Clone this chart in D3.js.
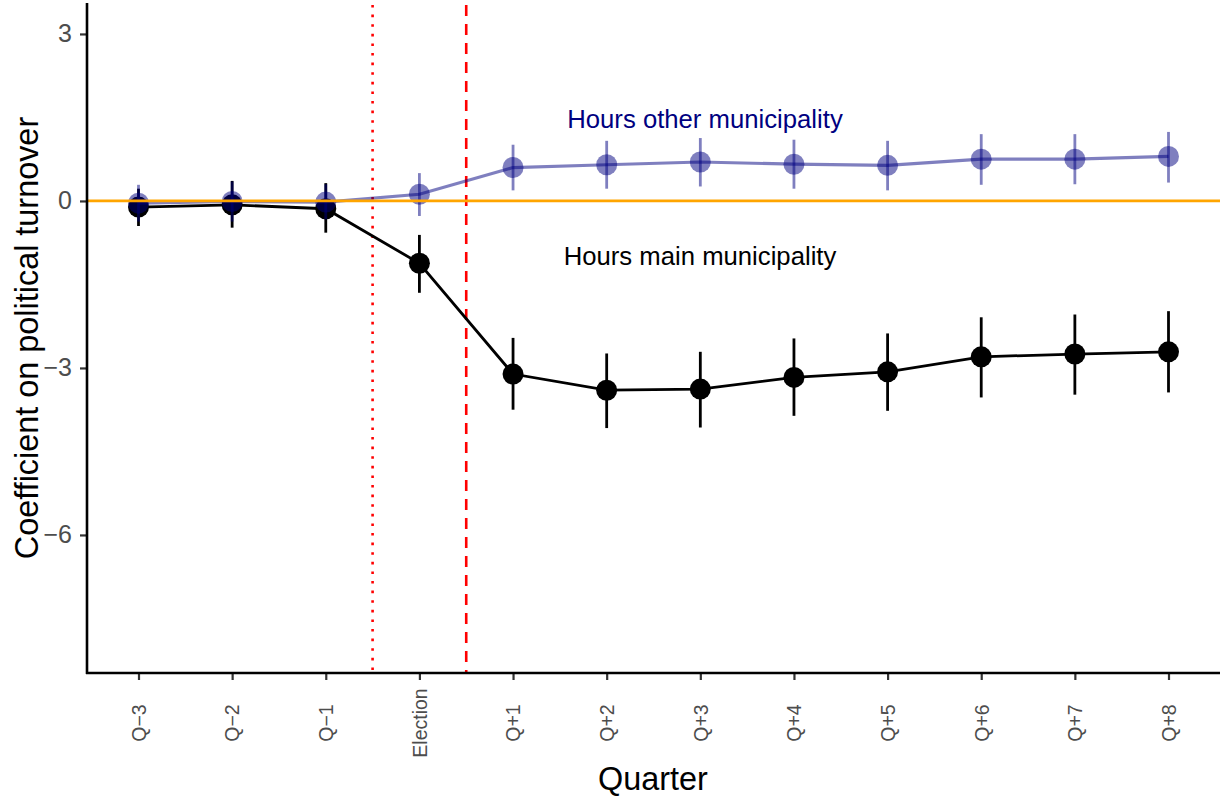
<!DOCTYPE html>
<html>
<head>
<meta charset="utf-8">
<script src="https://cdn.jsdelivr.net/npm/d3@7"></script>
<style>
  html, body { margin: 0; padding: 0; background: #fff; }
  svg { display: block; font-family: "Liberation Sans", Arial, Helvetica, sans-serif; }
</style>
</head>
<body>
<svg id="chart" width="1225" height="798"></svg>
<script>
// Quarters relative to the election
const quarters = ["Q\u22123", "Q\u22122", "Q\u22121", "Election", "Q+1", "Q+2", "Q+3", "Q+4", "Q+5", "Q+6", "Q+7", "Q+8"];

// Hours worked in the main municipality: estimate and 95% interval
const mainEst   = [-0.11, -0.07, -0.14, -1.12, -3.11, -3.40, -3.38, -3.17, -3.07, -2.80, -2.75, -2.71];
const mainLow   = [-0.45, -0.48, -0.57, -1.65, -3.75, -4.08, -4.07, -3.86, -3.77, -3.53, -3.48, -3.44];
const mainHigh  = [ 0.22,  0.36,  0.32, -0.61, -2.46, -2.74, -2.71, -2.47, -2.38, -2.09, -2.04, -1.98];

// Hours worked in other municipalities: estimate and 95% interval
const otherEst  = [-0.04, -0.01, -0.02,  0.12,  0.60,  0.65,  0.70,  0.66,  0.64,  0.75,  0.75,  0.80];
const otherLow  = [-0.37, -0.37, -0.33, -0.27,  0.19,  0.22,  0.26,  0.22,  0.19,  0.29,  0.30,  0.33];
const otherHigh = [ 0.29,  0.35,  0.30,  0.50,  1.01,  1.08,  1.13,  1.10,  1.08,  1.20,  1.20,  1.24];

const yTicks = [3, 0, -3, -6];

const svg = d3.select("#chart");
const pLeft = 87, pRight = 1220, pTop = 5, pBottom = 673;

const x = d3.scaleLinear().domain([0.45, 12.55]).range([pLeft, pRight]);
const y = d3.scaleLinear().domain([-8.48, 3.52]).range([pBottom, pTop]);

const idx = quarters.map((q, i) => i + 1);

// Election window markers
svg.append("line")
  .attr("x1", x(3.5)).attr("x2", x(3.5)).attr("y1", pTop).attr("y2", pBottom)
  .attr("stroke", "#ff0000").attr("stroke-width", 2.6).attr("stroke-dasharray", "2.6,7");
svg.append("line")
  .attr("x1", x(4.5)).attr("x2", x(4.5)).attr("y1", pTop).attr("y2", pBottom)
  .attr("stroke", "#ff0000").attr("stroke-width", 2.6).attr("stroke-dasharray", "11,8");

function drawSeries(est, lo, hi, color, opacity, lineWidth) {
  const g = svg.append("g");
  const line = d3.line().x((d, i) => x(idx[i])).y(d => y(d));
  g.append("path").datum(est)
    .attr("d", line).attr("fill", "none")
    .attr("stroke", color).attr("stroke-opacity", opacity).attr("stroke-width", lineWidth);
  g.selectAll("line.err").data(est).join("line")
    .attr("class", "err")
    .attr("x1", (d, i) => x(idx[i])).attr("x2", (d, i) => x(idx[i]))
    .attr("y1", (d, i) => y(lo[i])).attr("y2", (d, i) => y(hi[i]))
    .attr("stroke", color).attr("stroke-opacity", opacity).attr("stroke-width", 2.8);
  g.selectAll("circle").data(est).join("circle")
    .attr("cx", (d, i) => x(idx[i])).attr("cy", d => y(d))
    .attr("r", 10.5).attr("fill", color).attr("fill-opacity", opacity);
}

drawSeries(mainEst, mainLow, mainHigh, "#000000", 1, 2.8);
drawSeries(otherEst, otherLow, otherHigh, "#000080", 0.5, 3.2);

// Zero reference line
svg.append("line")
  .attr("x1", pLeft).attr("x2", pRight).attr("y1", y(0)).attr("y2", y(0))
  .attr("stroke", "#ffa500").attr("stroke-width", 2.8);

// Series labels
svg.append("text").attr("x", 705).attr("y", 128)
  .attr("text-anchor", "middle").attr("font-size", 25.7).attr("fill", "#000080")
  .text("Hours other municipality");
svg.append("text").attr("x", 700).attr("y", 265)
  .attr("text-anchor", "middle").attr("font-size", 25.7).attr("fill", "#000000")
  .text("Hours main municipality");

// Y axis
const yAxis = svg.append("g").attr("transform", `translate(${pLeft},0)`)
  .call(d3.axisLeft(y).tickValues(yTicks).tickSize(7).tickPadding(8)
    .tickFormat(d => d < 0 ? "\u2212" + Math.abs(d) : d));
yAxis.select(".domain").remove();
yAxis.selectAll(".tick line").attr("stroke", "#333333").attr("stroke-width", 2.2);
yAxis.selectAll(".tick text").attr("fill", "#4d4d4d").attr("font-size", 25)
  .attr("font-family", "Liberation Sans, Arial, sans-serif");

// X axis
const xAxis = svg.append("g").attr("transform", `translate(0,${pBottom})`)
  .call(d3.axisBottom(x).tickValues(idx).tickSize(7).tickFormat((d) => quarters[d - 1]));
xAxis.select(".domain").remove();
xAxis.selectAll(".tick line").attr("stroke", "#333333").attr("stroke-width", 2.2);
xAxis.selectAll(".tick text")
  .attr("fill", "#4d4d4d").attr("font-size", 19.5)
  .attr("font-family", "Liberation Sans, Arial, sans-serif")
  .attr("text-anchor", "middle")
  .attr("transform", "translate(0,50) rotate(-90)")
  .attr("x", 0).attr("y", 0).attr("dy", "0.35em");

// Axis lines
svg.append("line").attr("x1", pLeft).attr("x2", pLeft).attr("y1", pTop - 2).attr("y2", pBottom + 1)
  .attr("stroke", "#000").attr("stroke-width", 2.6);
svg.append("line").attr("x1", pLeft - 1).attr("x2", pRight).attr("y1", pBottom).attr("y2", pBottom)
  .attr("stroke", "#000").attr("stroke-width", 2.6);

// Axis titles
svg.append("text").attr("x", 653).attr("y", 790)
  .attr("text-anchor", "middle").attr("font-size", 32.4).attr("fill", "#000")
  .text("Quarter");
svg.append("text")
  .attr("transform", `translate(27,338) rotate(-90)`)
  .attr("text-anchor", "middle").attr("dy", "0.35em").attr("font-size", 32.4).attr("fill", "#000")
  .text("Coefficient on political turnover");
</script>
</body>
</html>
